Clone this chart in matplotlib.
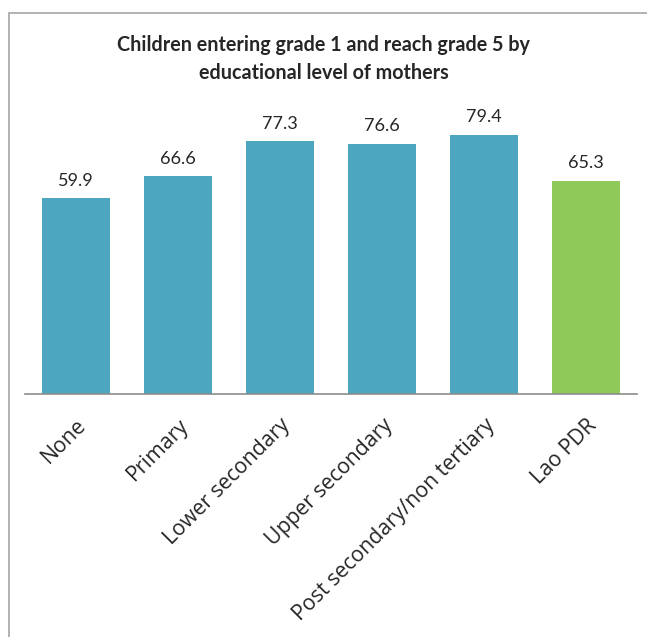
import matplotlib.pyplot as plt
from matplotlib.patches import Rectangle
from matplotlib import font_manager

# data
categories = ['None', 'Primary', 'Lower secondary', 'Upper secondary',
              'Post secondary/non tertiary', 'Lao PDR']
values = [59.9, 66.6, 77.3, 76.6, 79.4, 65.3]
bar_colors = ['#4DA6BF'] * 5 + ['#8EC95A']

title = 'Children entering grade 1 and reach grade 5 by\neducational level of mothers'

fig = plt.figure(figsize=(6.47, 6.37), dpi=100)

# outer chart frame (cut off at right and bottom as in the reference)
fig.patches.append(Rectangle((9 / 647, -0.05), 1.0, (637 - 13) / 637 + 0.05,
                             transform=fig.transFigure, fill=False,
                             edgecolor='#A6A6A6', linewidth=1.2))

ax = fig.add_axes([25 / 647, (637 - 394) / 637, 612 / 647, 294 / 637])
x = range(len(categories))
bars = ax.bar(x, values, width=0.67, color=bar_colors)
ax.set_xlim(-0.5, len(categories) - 0.5)
ax.set_ylim(0, 90)

for b, v in zip(bars, values):
    ax.annotate(f'{v:.1f}', (b.get_x() + b.get_width() / 2, v),
                xytext=(0, 7), textcoords='offset points',
                ha='center', va='bottom', fontsize=13,
                family='Lato', color='#262626')

tick_font = font_manager.FontProperties(family='Open Sans', size=15.3)
ax.set_xticks(list(x))
ax.set_xticklabels(categories, rotation=45, ha='right', rotation_mode='anchor',
                   fontproperties=tick_font, color='#262626')
ax.tick_params(axis='x', length=0, pad=15)
ax.set_yticks([])
for side in ['top', 'left', 'right']:
    ax.spines[side].set_visible(False)
ax.spines['bottom'].set_color('#8C8C8C')
ax.spines['bottom'].set_linewidth(1.2)

fig.text(0.5, 1 - 59 / 637, title, ha='center', va='center',
         fontsize=14.2, fontweight='bold', family='Lato',
         color='#262626', linespacing=1.45)

fig.savefig('out.png', dpi=100)
